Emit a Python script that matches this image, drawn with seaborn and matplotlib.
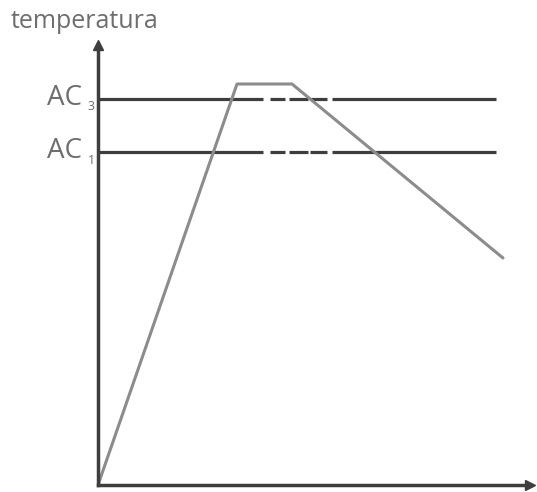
import numpy as np
import pandas as pd
import seaborn as sns
import matplotlib.pyplot as plt

sns.set_style("white")
plt.rcParams["font.family"] = ["Open Sans", "DejaVu Sans"]

# heating / holding / cooling curve (time, temperature) in arbitrary units
time = [0, 139, 194, 405]
temperature = [0, 401, 401, 227]

# critical temperatures
ac_names = ["3", "1"]
ac_levels = [386, 333]
# pieces of the horizontal lines (start, end) - solid part, dashes, solid part
ac_pieces = [(0, 165), (172, 187), (191, 210), (212, 229), (234, 398)]

curve = pd.DataFrame({"time": time, "temperature": temperature})

fig = plt.figure(figsize=(5.37, 4.92), dpi=100)
ax = fig.add_axes([98 / 537, 7 / 492, 432 / 537, 440 / 492])

axis_col = "#3e3e3e"
text_col = "#6e6e6e"
for lvl in ac_levels:
    for a, b in ac_pieces:
        ax.plot([a, b], [lvl, lvl], color=axis_col, lw=2.3, solid_capstyle="butt")

sns.lineplot(data=curve, x="time", y="temperature", color="#8c8c8c", lw=2.2,
             ax=ax, sort=False)

for name, lvl in zip(ac_names, ac_levels):
    ax.text(-16, lvl + 1, "AC", ha="right", va="center", fontsize=20,
            color=text_col, clip_on=False)
    ax.text(-7, lvl - 8, name, ha="center", va="center", fontsize=9,
            color=text_col, clip_on=False)

ax.set_xlim(0, 432)
ax.set_ylim(0, 440)
ax.set_xticks([])
ax.set_yticks([])
ax.set_xlabel("")
ax.set_ylabel("")
sns.despine(ax=ax, top=True, right=True)
for s in ["left", "bottom"]:
    ax.spines[s].set_color(axis_col)
    ax.spines[s].set_linewidth(2.5)

# arrow heads
ax.plot(1, 0, ">", transform=ax.transAxes, color=axis_col, ms=7, clip_on=False)
ax.plot(0, 1, "^", transform=ax.transAxes, color=axis_col, ms=7, clip_on=False)

fig.text(11 / 537, 1 - 21 / 492, "temperatura", ha="left", va="center",
         fontsize=18, color=text_col)

plt.savefig("out.png", dpi=100)
